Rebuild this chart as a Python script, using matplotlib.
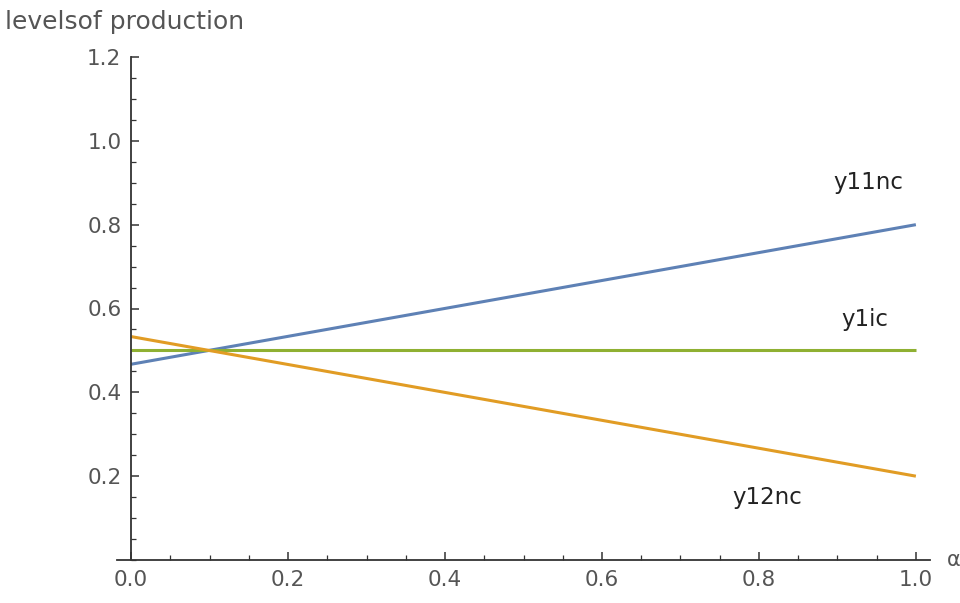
import matplotlib
matplotlib.use("Agg")
import matplotlib.pyplot as plt
from matplotlib.ticker import MultipleLocator, FormatStrFormatter

# Data
alpha = [0.0, 1.0]
y11nc = [0.467, 0.800]
y1ic = [0.500, 0.500]
y12nc = [0.533, 0.200]

series_names = ["y11nc", "y1ic", "y12nc"]
label_pos = {"y11nc": (0.94, 0.90), "y1ic": (0.935, 0.573), "y12nc": (0.81, 0.15)}

colors = {"y11nc": "#5E81B5", "y1ic": "#8FB032", "y12nc": "#E19C24"}

plt.rcParams['font.family'] = ['DejaVu Sans']

fig = plt.figure(figsize=(9.6, 6.03), dpi=100)
ax = fig.add_axes([117/960, 1-560/603, (930-117)/960, (560-57)/603])

ax.plot(alpha, y11nc, color=colors["y11nc"], lw=2.2, solid_capstyle='butt')
ax.plot(alpha, y1ic, color=colors["y1ic"], lw=2.2, solid_capstyle='butt')
ax.plot(alpha, y12nc, color=colors["y12nc"], lw=2.2, solid_capstyle='butt')

for name in series_names:
    x, y = label_pos[name]
    ax.text(x, y, name, fontsize=16.5, color="#222222", ha='center', va='center')

ax.set_xlim(-0.018, 1.018)
ax.set_ylim(0, 1.2)

for s in ['top', 'right']:
    ax.spines[s].set_visible(False)
ax.spines['left'].set_position(('data', 0))
ax.spines['bottom'].set_position(('data', 0))
for s in ['left', 'bottom']:
    ax.spines[s].set_color('#333333')
    ax.spines[s].set_linewidth(1.3)

ax.xaxis.set_major_locator(MultipleLocator(0.2))
ax.xaxis.set_minor_locator(MultipleLocator(0.05))
ax.yaxis.set_major_locator(MultipleLocator(0.2))
ax.yaxis.set_minor_locator(MultipleLocator(0.05))
ax.xaxis.set_major_formatter(FormatStrFormatter('%.1f'))
ax.yaxis.set_major_formatter(FormatStrFormatter('%.1f'))

ax.set_xticks([0.0, 0.2, 0.4, 0.6, 0.8, 1.0])
ax.set_yticks([0.2, 0.4, 0.6, 0.8, 1.0, 1.2])

ax.tick_params(which='major', direction='in', length=6, width=1.1, color='#333333',
               labelsize=15.5, labelcolor='#555555', pad=7)
ax.tick_params(which='minor', direction='in', length=3.5, width=0.9, color='#333333')

fig.text(5/960, 1-22/603, "levelsof production", fontsize=18, color="#555555",
         ha='left', va='center')
fig.text(947/960, 1-560/603, "α", fontsize=15, color="#555555", ha='left', va='center')

fig.savefig("out.png", dpi=100)
